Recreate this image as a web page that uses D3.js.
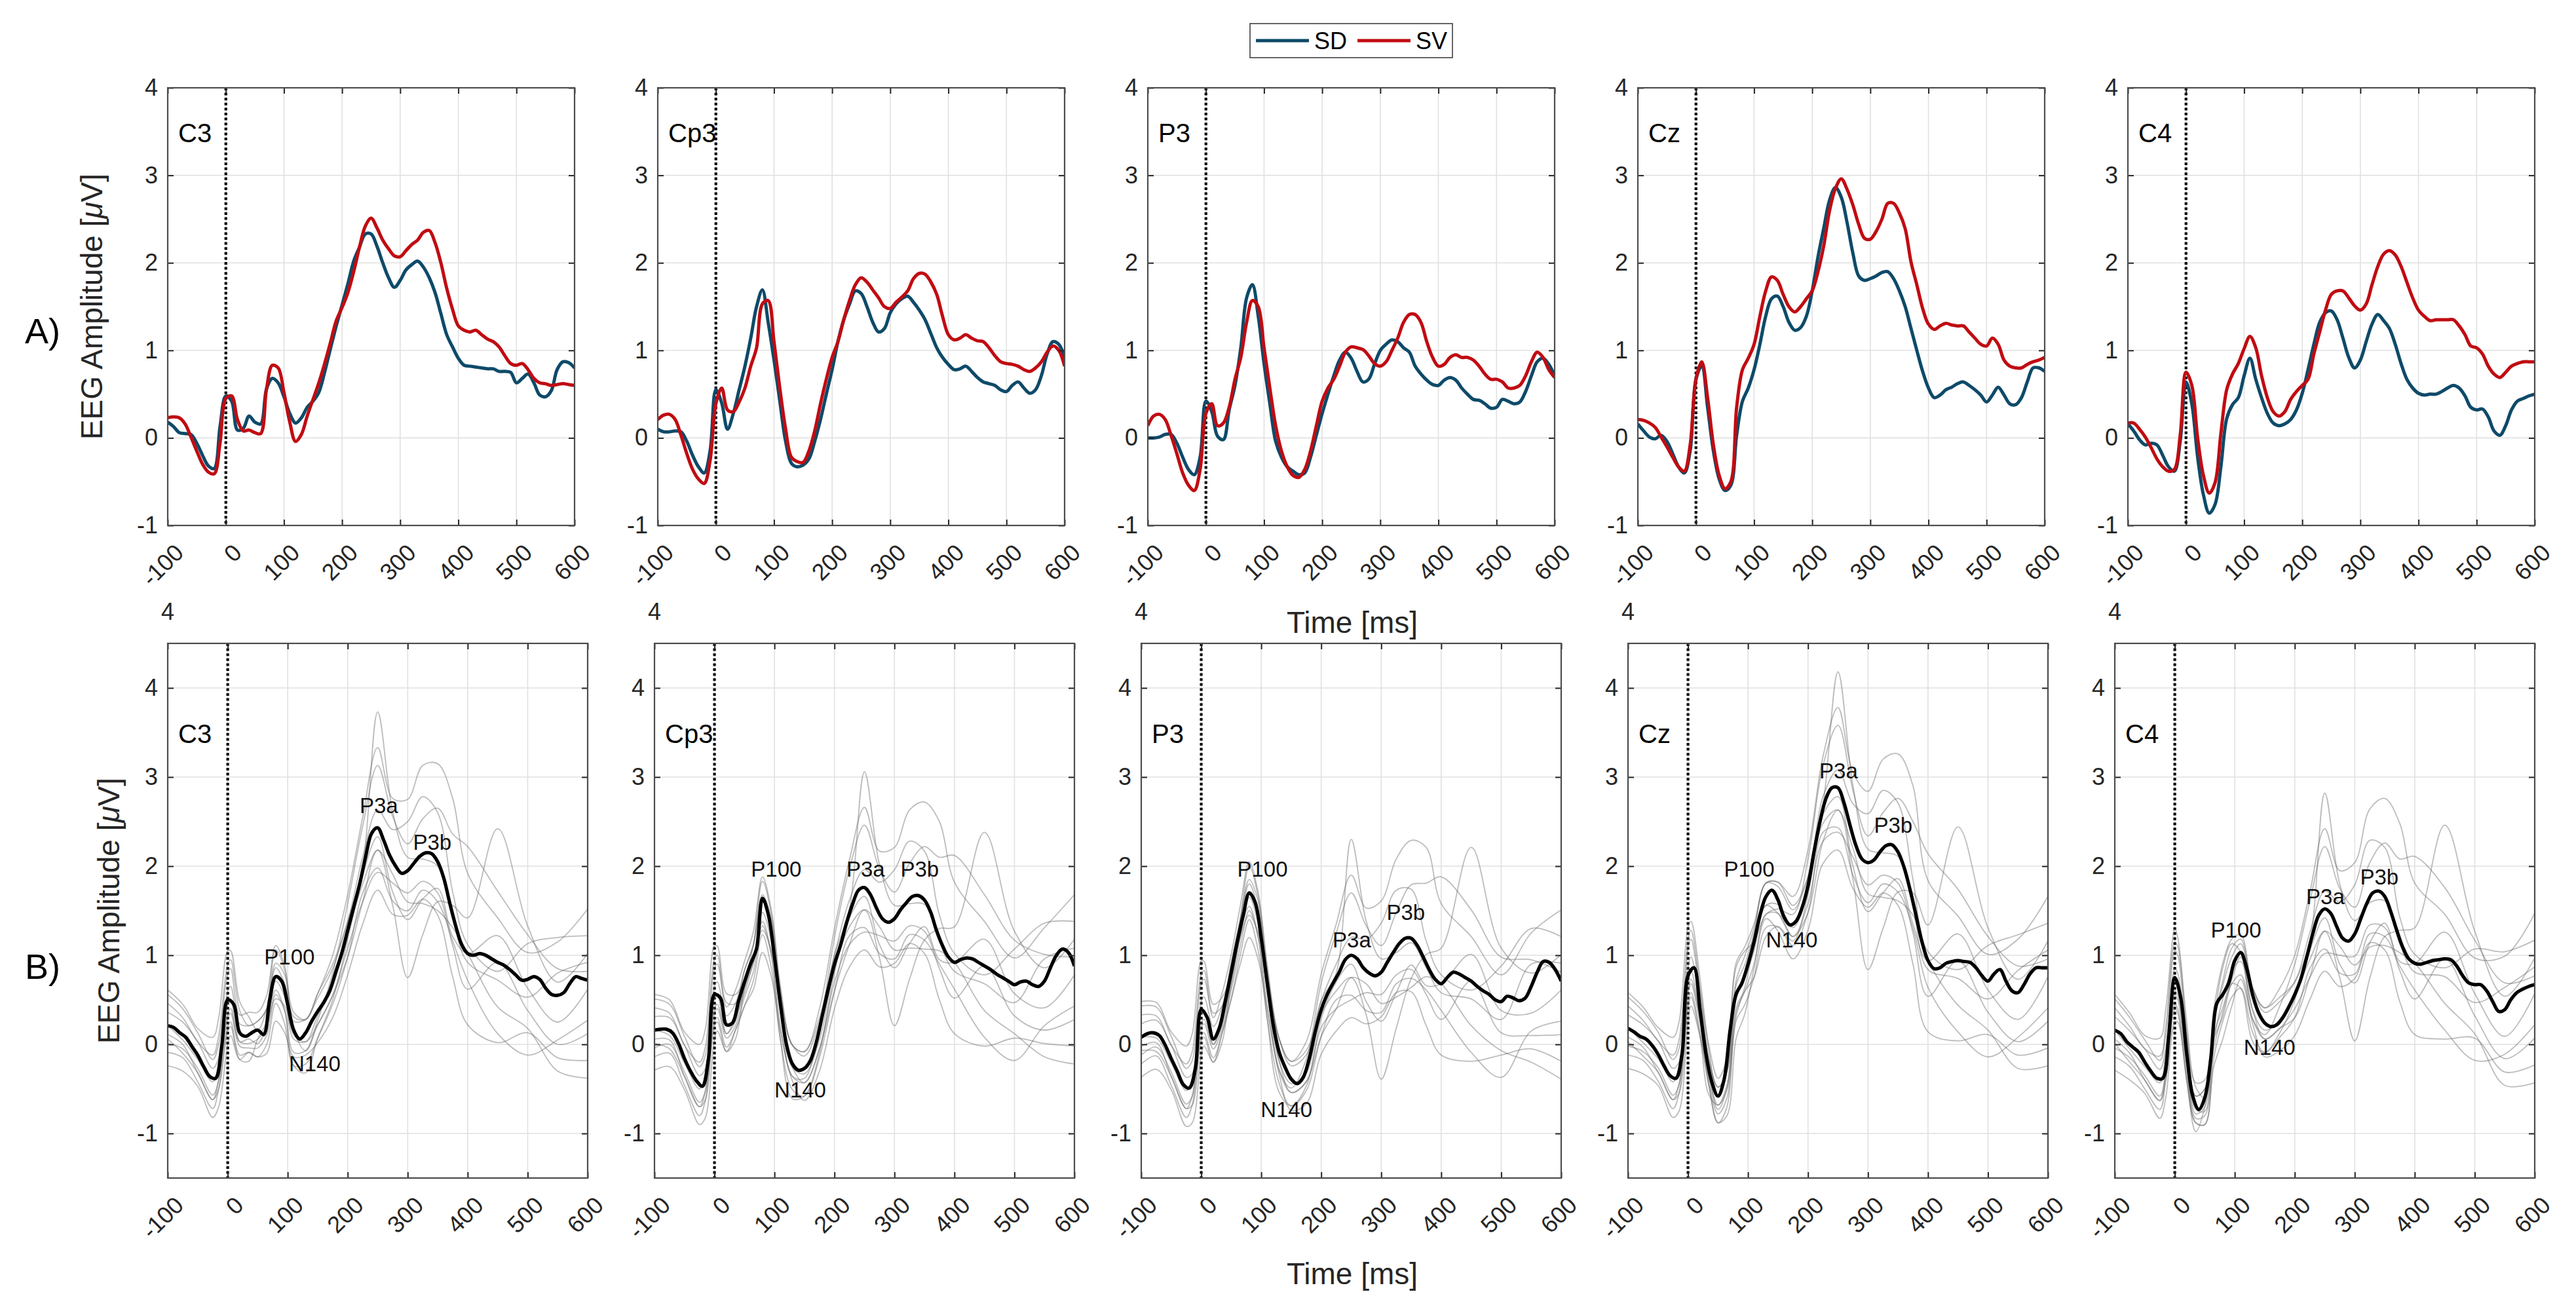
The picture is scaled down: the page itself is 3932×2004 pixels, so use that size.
<!DOCTYPE html>
<html><head><meta charset="utf-8">
<script src="https://cdn.jsdelivr.net/npm/d3@7"></script>
<style>body{margin:0;background:#fff}svg{display:block}</style>
</head><body><svg id="chart" width="3932" height="2004"></svg>
<script>
// ---------------- DATA ----------------
const timeMs = [-100,-90,-80,-70,-60,-50,-40,-30,-20,-10,0,10,20,30,40,50,60,70,80,90,100,110,120,130,140,150,160,170,180,190,200,210,220,230,240,250,260,270,280,290,300,310,320,330,340,350,360,370,380,390,400,410,420,430,440,450,460,470,480,490,500,510,520,530,540,550,560,570,580,590,600];
const channels = ["C3","Cp3","P3","Cz","C4"];
const seriesNames = ["SD","SV"];
const xTickVals = [-100,0,100,200,300,400,500,600];
const yTickVals = [-1,0,1,2,3,4];

const sdC3 = [0.18,0.13,0.06,0.05,0.04,-0.06,-0.20,-0.32,-0.35,0.13, 0.48,0.42,0.09,0.11,0.25,0.18,0.16,0.56,0.68,0.63, 0.47,0.28,0.17,0.23,0.35,0.42,0.52,0.75,1.02,1.28, 1.52,1.76,2.02,2.18,2.33,2.33,2.19,2.00,1.83,1.72, 1.80,1.92,1.98,2.02,1.95,1.83,1.66,1.42,1.18,1.04, 0.91,0.83,0.82,0.81,0.80,0.79,0.79,0.76,0.76,0.75, 0.63,0.68,0.73,0.63,0.49,0.47,0.54,0.78,0.87,0.86,0.80];
const svC3 = [0.23,0.24,0.23,0.16,0.01,-0.15,-0.30,-0.39,-0.41,-0.06, 0.45,0.48,0.21,0.08,0.09,0.06,0.05,0.56,0.83,0.80, 0.52,0.18,-0.04,0.04,0.25,0.44,0.63,0.85,1.09,1.34, 1.49,1.66,1.90,2.18,2.42,2.51,2.40,2.26,2.16,2.08, 2.07,2.14,2.21,2.26,2.35,2.37,2.23,2.00,1.71,1.47, 1.28,1.23,1.21,1.23,1.18,1.13,1.10,1.04,0.94,0.85, 0.83,0.85,0.78,0.68,0.63,0.62,0.60,0.61,0.62,0.61,0.60];
const sdCp3 = [0.10,0.07,0.07,0.08,0.07,-0.04,-0.20,-0.33,-0.40,-0.15, 0.55,0.40,0.10,0.28,0.55,0.82,1.14,1.50,1.69,1.32, 0.89,0.42,-0.04,-0.29,-0.33,-0.31,-0.24,-0.04,0.21,0.50, 0.78,1.10,1.35,1.53,1.68,1.65,1.50,1.32,1.21,1.25, 1.43,1.53,1.59,1.62,1.55,1.46,1.35,1.19,1.03,0.92, 0.84,0.78,0.79,0.82,0.76,0.69,0.64,0.62,0.60,0.55, 0.53,0.60,0.64,0.57,0.51,0.55,0.71,0.96,1.10,1.07,0.92];
const svCp3 = [0.21,0.26,0.27,0.21,0.03,-0.18,-0.36,-0.47,-0.52,-0.26, 0.39,0.57,0.32,0.30,0.41,0.57,0.82,1.03,1.53,1.57, 1.10,0.57,0.10,-0.22,-0.27,-0.28,-0.15,0.08,0.39,0.67, 0.92,1.10,1.35,1.57,1.75,1.83,1.78,1.69,1.60,1.50, 1.48,1.55,1.61,1.68,1.82,1.88,1.87,1.78,1.64,1.39, 1.18,1.12,1.14,1.18,1.14,1.11,1.10,1.03,0.94,0.87, 0.85,0.84,0.82,0.78,0.76,0.80,0.87,0.98,1.05,1.00,0.82];
const sdP3 = [0.00,0.00,0.01,0.04,0.04,-0.06,-0.22,-0.36,-0.42,-0.22, 0.42,0.30,0.02,-0.02,0.32,0.60,1.03,1.60,1.75,1.39, 0.85,0.39,-0.04,-0.22,-0.33,-0.38,-0.42,-0.40,-0.22,0.03, 0.28,0.50,0.71,0.89,0.98,0.91,0.76,0.64,0.67,0.84, 1.00,1.07,1.12,1.10,1.03,0.98,0.82,0.73,0.66,0.61, 0.60,0.66,0.69,0.66,0.57,0.50,0.44,0.43,0.39,0.34, 0.35,0.44,0.42,0.39,0.41,0.53,0.71,0.87,0.91,0.84,0.71];
const svP3 = [0.14,0.25,0.27,0.21,0.03,-0.18,-0.40,-0.54,-0.60,-0.36, 0.28,0.39,0.14,0.17,0.35,0.67,0.92,1.32,1.57,1.50, 1.03,0.57,0.14,-0.15,-0.33,-0.43,-0.45,-0.36,-0.15,0.14, 0.42,0.57,0.67,0.82,0.98,1.04,1.03,1.01,0.94,0.85, 0.82,0.87,1.00,1.14,1.32,1.41,1.41,1.32,1.10,0.92, 0.82,0.84,0.92,0.95,0.92,0.92,0.89,0.82,0.73,0.67, 0.67,0.64,0.57,0.57,0.60,0.71,0.87,0.98,0.92,0.78,0.69];
const sdCz = [0.16,0.08,0.01,-0.01,0.03,-0.04,-0.18,-0.33,-0.40,-0.15, 0.67,0.82,0.35,-0.15,-0.47,-0.60,-0.54,0.03,0.42,0.57, 0.78,1.07,1.39,1.59,1.62,1.50,1.32,1.23,1.26,1.39, 1.68,2.07,2.40,2.72,2.86,2.75,2.46,2.11,1.85,1.80, 1.82,1.85,1.89,1.90,1.82,1.68,1.50,1.25,1.00,0.76, 0.57,0.46,0.49,0.55,0.58,0.62,0.64,0.60,0.55,0.49, 0.41,0.49,0.58,0.49,0.39,0.38,0.46,0.64,0.80,0.80,0.76];
const svCz = [0.21,0.20,0.17,0.12,0.01,-0.10,-0.22,-0.33,-0.38,-0.08, 0.67,0.87,0.46,-0.08,-0.43,-0.58,-0.50,0.35,0.78,0.91, 1.07,1.39,1.68,1.84,1.80,1.64,1.50,1.44,1.50,1.59, 1.68,1.90,2.20,2.60,2.85,2.96,2.84,2.66,2.44,2.28, 2.27,2.36,2.50,2.68,2.68,2.57,2.39,2.01,1.75,1.48, 1.30,1.24,1.28,1.31,1.29,1.28,1.28,1.21,1.14,1.07, 1.05,1.14,1.07,0.89,0.82,0.80,0.80,0.84,0.87,0.89,0.92];
const sdC4 = [0.16,0.08,-0.02,-0.08,-0.06,-0.08,-0.20,-0.33,-0.38,-0.04, 0.64,0.39,-0.22,-0.65,-0.86,-0.76,-0.33,0.22,0.38,0.46, 0.71,0.91,0.67,0.46,0.28,0.17,0.14,0.16,0.21,0.32, 0.51,0.78,1.07,1.32,1.43,1.45,1.35,1.14,0.92,0.80, 0.89,1.10,1.30,1.41,1.34,1.25,1.07,0.85,0.67,0.57, 0.51,0.49,0.50,0.50,0.53,0.57,0.60,0.57,0.48,0.35, 0.32,0.33,0.24,0.08,0.03,0.14,0.32,0.42,0.45,0.48,0.50];
const svC4 = [0.17,0.17,0.10,0.01,-0.11,-0.24,-0.33,-0.38,-0.36,0.03, 0.75,0.60,0.00,-0.43,-0.63,-0.51,0.05,0.55,0.73,0.85, 1.02,1.16,1.03,0.71,0.46,0.30,0.25,0.30,0.44,0.53, 0.60,0.67,0.96,1.21,1.46,1.64,1.68,1.68,1.60,1.51, 1.46,1.53,1.75,1.96,2.10,2.14,2.09,1.96,1.78,1.60, 1.46,1.39,1.34,1.35,1.35,1.35,1.35,1.28,1.18,1.05, 1.03,0.96,0.82,0.73,0.69,0.75,0.82,0.85,0.87,0.87,0.87];

const meanC3 = [0.21,0.19,0.13,0.08,-0.02,-0.12,-0.25,-0.36,-0.38,-0.02, 0.50,0.45,0.13,0.09,0.13,0.16,0.11,0.50,0.76,0.71, 0.45,0.16,0.06,0.13,0.26,0.37,0.47,0.60,0.81,1.02, 1.28,1.54,1.80,2.11,2.37,2.43,2.29,2.12,2.00,1.92, 1.95,2.03,2.11,2.15,2.14,2.05,1.87,1.59,1.33,1.12, 1.02,1.00,1.02,1.00,0.96,0.92,0.89,0.84,0.78,0.72, 0.73,0.76,0.73,0.63,0.56,0.55,0.58,0.68,0.76,0.74,0.72];
const meanCp3 = [0.16,0.17,0.17,0.13,0.01,-0.16,-0.30,-0.41,-0.47,-0.16, 0.56,0.52,0.22,0.24,0.48,0.70,0.90,1.07,1.64,1.45, 0.98,0.45,0.00,-0.22,-0.29,-0.27,-0.18,0.03,0.33,0.63, 0.90,1.11,1.36,1.57,1.73,1.76,1.68,1.53,1.41,1.37, 1.41,1.51,1.59,1.66,1.67,1.62,1.49,1.28,1.11,0.98, 0.92,0.95,0.97,0.96,0.92,0.88,0.84,0.79,0.75,0.71, 0.67,0.70,0.71,0.67,0.65,0.71,0.86,1.00,1.07,1.03,0.88];
const meanP3 = [0.08,0.12,0.13,0.10,-0.01,-0.16,-0.30,-0.45,-0.49,-0.28, 0.39,0.30,0.06,0.18,0.48,0.81,1.15,1.45,1.70,1.59, 1.19,0.69,0.22,-0.09,-0.26,-0.39,-0.44,-0.37,-0.16,0.14, 0.39,0.56,0.69,0.81,0.95,1.00,0.96,0.86,0.80,0.77, 0.81,0.92,1.03,1.13,1.19,1.19,1.11,0.98,0.84,0.73, 0.68,0.75,0.81,0.79,0.75,0.71,0.65,0.60,0.56,0.50, 0.48,0.54,0.52,0.49,0.52,0.65,0.81,0.93,0.92,0.84,0.71];
const meanCz = [0.18,0.14,0.09,0.06,-0.01,-0.11,-0.24,-0.35,-0.38,-0.11, 0.77,0.86,0.39,-0.11,-0.43,-0.58,-0.40,0.15,0.56,0.69, 0.90,1.15,1.45,1.66,1.73,1.62,1.43,1.34,1.38,1.53, 1.78,2.16,2.50,2.76,2.88,2.88,2.71,2.46,2.23,2.08, 2.04,2.07,2.16,2.23,2.24,2.16,1.99,1.74,1.45,1.15, 0.94,0.85,0.86,0.91,0.93,0.94,0.93,0.92,0.86,0.77, 0.71,0.79,0.84,0.71,0.60,0.58,0.67,0.79,0.86,0.86,0.86];
const meanC4 = [0.16,0.12,0.03,-0.03,-0.09,-0.20,-0.30,-0.38,-0.38,0.10, 0.75,0.52,-0.11,-0.58,-0.73,-0.60,-0.16,0.46,0.56,0.69, 0.94,1.03,0.85,0.55,0.35,0.24,0.20,0.22,0.30,0.42, 0.56,0.73,0.98,1.24,1.45,1.52,1.47,1.32,1.19,1.16, 1.24,1.41,1.58,1.70,1.72,1.66,1.49,1.28,1.09,0.96, 0.91,0.90,0.92,0.94,0.95,0.96,0.95,0.88,0.77,0.69, 0.67,0.67,0.60,0.48,0.37,0.39,0.50,0.58,0.62,0.65,0.67];

// individual subject traces (sampled at subjectTimes)
const subjectTimes = [-100,-75,-50,-25,-15,0,5,20,35,50,65,80,95,110,130,150,175,200,225,250,275,300,325,350,375,400,450,500,550,600];
const subjectsC3 = [
[0.56,0.40,0.13,-0.17,0.00,0.80,0.85,0.33,0.36,0.36,0.55,1.11,0.88,0.36,0.28,0.57,1.00,1.68,2.55,3.33,2.76,2.75,3.13,3.15,2.76,1.92,1.42,1.03,1.15,1.52],
[-0.09,-0.15,-0.42,-0.72,-0.50,0.20,0.25,-0.12,-0.09,-0.14,0.00,0.46,0.23,-0.24,-0.22,0.07,0.45,0.98,1.70,1.98,1.61,1.50,1.73,1.60,1.16,0.72,0.12,-0.12,0.05,0.27],
[0.01,-0.05,-0.27,-0.57,-0.40,0.30,0.35,-0.02,-0.04,-0.04,0.10,0.56,0.38,-0.09,-0.07,0.22,0.55,1.08,1.60,1.93,1.81,1.70,1.83,1.70,1.11,0.62,0.92,0.38,0.00,0.12],
[0.46,0.30,0.03,-0.12,0.10,0.90,0.95,0.38,0.21,0.26,0.40,0.91,0.78,0.31,0.28,0.57,0.90,1.38,2.10,2.63,2.41,2.50,2.78,2.60,1.71,1.12,0.82,1.13,1.20,1.22],
[0.11,0.00,-0.32,-0.62,-0.50,0.15,0.20,-0.17,-0.19,0.06,0.25,0.61,0.38,-0.24,-0.32,0.07,0.50,1.18,1.90,2.33,1.71,1.40,1.63,1.75,1.21,1.02,1.22,0.63,0.25,0.62],
[0.36,0.25,0.03,-0.27,-0.15,0.60,0.65,0.23,0.21,0.26,0.40,0.86,0.68,0.26,0.28,0.52,0.85,1.38,2.00,3.73,2.61,2.10,2.08,2.00,1.41,0.92,0.72,0.53,0.80,0.92],
[0.06,-0.10,-0.32,-0.62,-0.40,0.35,0.40,0.03,0.06,0.01,0.20,0.51,0.43,0.11,0.03,0.22,0.55,0.98,1.60,2.18,1.91,1.60,1.58,1.50,1.31,1.02,0.42,0.18,-0.30,-0.38],
[0.21,0.05,-0.17,-0.42,-0.20,0.45,0.50,0.03,0.01,0.06,0.20,0.71,0.53,0.06,0.03,0.32,0.65,1.23,1.80,2.18,1.56,0.75,1.23,1.60,1.56,1.42,2.42,1.33,0.70,1.02],
[0.61,0.45,0.18,0.08,0.30,1.05,1.05,0.48,0.31,0.16,0.40,1.06,0.83,0.16,-0.07,0.27,0.80,1.58,2.45,3.13,2.56,2.25,2.53,2.65,2.36,2.22,1.72,1.23,0.85,0.82],
[-0.24,-0.30,-0.47,-0.82,-0.70,0.00,0.10,-0.17,-0.09,-0.14,-0.10,0.26,0.13,-0.14,-0.12,0.02,0.30,0.78,1.35,1.73,1.46,1.45,1.63,1.45,0.76,0.22,0.02,0.13,-0.15,-0.18]];
const subjectsCp3 = [
[0.51,0.45,0.09,-0.25,-0.12,0.86,0.90,0.42,0.61,0.93,1.27,1.88,1.50,0.65,-0.01,-0.08,0.40,1.30,2.07,2.66,2.17,2.21,2.63,2.72,2.50,1.82,1.38,0.97,1.31,1.68],
[-0.14,-0.10,-0.46,-0.80,-0.62,0.26,0.30,-0.03,0.16,0.43,0.72,1.23,0.85,0.05,-0.51,-0.58,-0.15,0.60,1.22,1.31,1.02,0.96,1.23,1.17,0.90,0.62,0.08,-0.18,0.21,0.43],
[-0.04,0.00,-0.31,-0.65,-0.52,0.36,0.40,0.07,0.21,0.53,0.82,1.33,1.00,0.20,-0.36,-0.43,-0.05,0.70,1.12,1.26,1.22,1.16,1.33,1.27,0.85,0.52,0.88,0.32,0.16,0.28],
[0.41,0.35,-0.01,-0.20,-0.02,0.96,1.00,0.47,0.46,0.83,1.12,1.68,1.40,0.60,-0.01,-0.08,0.30,1.00,1.62,1.96,1.82,1.96,2.28,2.17,1.45,1.02,0.78,1.07,1.36,1.38],
[0.06,0.05,-0.36,-0.70,-0.62,0.21,0.25,-0.08,0.06,0.63,0.97,1.38,1.00,0.05,-0.61,-0.58,-0.10,0.80,1.42,1.66,1.12,0.86,1.13,1.32,0.95,0.92,1.18,0.57,0.41,0.78],
[0.31,0.30,-0.01,-0.35,-0.27,0.66,0.70,0.32,0.46,0.83,1.12,1.63,1.30,0.55,-0.01,-0.13,0.25,1.00,1.52,3.06,2.02,1.56,1.58,1.57,1.15,0.82,0.68,0.47,0.96,1.08],
[0.01,-0.05,-0.36,-0.70,-0.52,0.41,0.45,0.12,0.31,0.58,0.92,1.28,1.05,0.40,-0.26,-0.43,-0.05,0.60,1.12,1.51,1.32,1.06,1.08,1.07,1.05,0.92,0.38,0.12,-0.14,-0.22],
[0.16,0.10,-0.21,-0.50,-0.32,0.51,0.55,0.12,0.26,0.63,0.92,1.48,1.15,0.35,-0.26,-0.33,0.05,0.85,1.32,1.51,0.97,0.21,0.73,1.17,1.30,1.32,2.38,1.27,0.86,1.18],
[0.56,0.50,0.14,0.00,0.18,1.11,1.10,0.57,0.56,0.73,1.12,1.83,1.45,0.45,-0.36,-0.38,0.20,1.20,1.97,2.46,1.97,1.71,2.03,2.22,2.10,2.12,1.68,1.17,1.01,0.98],
[-0.29,-0.25,-0.51,-0.90,-0.82,0.06,0.15,-0.08,0.16,0.43,0.62,1.03,0.75,0.15,-0.41,-0.63,-0.30,0.40,0.87,1.06,0.87,0.91,1.13,1.02,0.50,0.12,-0.02,0.07,0.01,-0.02]];
const subjectsP3 = [
[0.43,0.42,0.09,-0.27,-0.18,0.69,0.73,0.30,0.58,1.01,1.55,2.05,1.70,0.89,0.06,-0.19,0.03,0.79,1.35,1.90,1.53,1.61,2.08,2.29,2.21,1.58,1.21,0.78,1.25,1.51],
[-0.22,-0.13,-0.46,-0.82,-0.68,0.09,0.13,-0.15,0.13,0.51,1.00,1.40,1.05,0.29,-0.44,-0.69,-0.52,0.09,0.50,0.55,0.38,0.36,0.68,0.74,0.61,0.38,-0.09,-0.37,0.15,0.26],
[-0.12,-0.03,-0.31,-0.67,-0.58,0.19,0.23,-0.05,0.18,0.61,1.10,1.50,1.20,0.44,-0.29,-0.54,-0.42,0.19,0.40,0.50,0.58,0.56,0.78,0.84,0.56,0.28,0.71,0.13,0.10,0.11],
[0.33,0.32,-0.01,-0.22,-0.08,0.79,0.83,0.35,0.43,0.91,1.40,1.85,1.60,0.84,0.06,-0.19,-0.07,0.49,0.90,1.20,1.18,1.36,1.73,1.74,1.16,0.78,0.61,0.88,1.30,1.21],
[-0.02,0.02,-0.36,-0.72,-0.68,0.04,0.08,-0.20,0.03,0.71,1.25,1.55,1.20,0.29,-0.54,-0.69,-0.47,0.29,0.70,0.90,0.48,0.26,0.58,0.89,0.66,0.68,1.01,0.38,0.35,0.61],
[0.23,0.27,-0.01,-0.37,-0.33,0.49,0.53,0.20,0.43,0.91,1.40,1.80,1.50,0.79,0.06,-0.24,-0.12,0.49,0.80,2.30,1.38,0.96,1.03,1.14,0.86,0.58,0.51,0.28,0.90,0.91],
[-0.07,-0.08,-0.36,-0.72,-0.58,0.24,0.28,0.00,0.28,0.66,1.20,1.45,1.25,0.64,-0.19,-0.54,-0.42,0.09,0.40,0.75,0.68,0.46,0.53,0.64,0.76,0.68,0.21,-0.07,-0.20,-0.39],
[0.08,0.07,-0.21,-0.52,-0.38,0.34,0.38,0.00,0.23,0.71,1.20,1.65,1.35,0.59,-0.19,-0.44,-0.32,0.34,0.60,0.75,0.33,-0.39,0.18,0.74,1.01,1.08,2.21,1.08,0.80,1.01],
[0.48,0.47,0.14,-0.02,0.12,0.94,0.93,0.45,0.53,0.81,1.40,2.00,1.65,0.69,-0.29,-0.49,-0.17,0.69,1.25,1.70,1.33,1.11,1.48,1.79,1.81,1.88,1.51,0.98,0.95,0.81],
[-0.37,-0.28,-0.51,-0.92,-0.88,-0.11,-0.02,-0.20,0.13,0.51,0.90,1.20,0.95,0.39,-0.34,-0.74,-0.67,-0.11,0.15,0.30,0.23,0.31,0.58,0.59,0.21,-0.12,-0.19,-0.12,-0.05,-0.19]];
const subjectsCz = [
[0.53,0.37,0.14,-0.17,-0.05,1.07,1.18,0.59,-0.02,-0.38,-0.15,0.91,1.10,1.35,1.81,1.82,1.66,2.18,3.23,3.78,3.05,2.84,3.20,3.26,2.90,1.84,1.44,1.01,1.18,1.66],
[-0.12,-0.18,-0.41,-0.72,-0.55,0.47,0.58,0.14,-0.47,-0.88,-0.70,0.26,0.45,0.75,1.31,1.32,1.11,1.48,2.38,2.43,1.90,1.59,1.80,1.71,1.30,0.64,0.14,-0.14,0.08,0.41],
[-0.02,-0.08,-0.26,-0.57,-0.45,0.57,0.68,0.24,-0.42,-0.78,-0.60,0.36,0.60,0.90,1.46,1.47,1.21,1.58,2.28,2.38,2.10,1.79,1.90,1.81,1.25,0.54,0.94,0.36,0.03,0.26],
[0.43,0.27,0.04,-0.12,0.05,1.17,1.28,0.64,-0.17,-0.48,-0.30,0.71,1.00,1.30,1.81,1.82,1.56,1.88,2.78,3.08,2.70,2.59,2.85,2.71,1.85,1.04,0.84,1.11,1.23,1.36],
[0.08,-0.03,-0.31,-0.62,-0.55,0.42,0.53,0.09,-0.57,-0.68,-0.45,0.41,0.60,0.75,1.21,1.32,1.16,1.68,2.58,2.78,2.00,1.49,1.70,1.86,1.35,0.94,1.24,0.61,0.28,0.76],
[0.33,0.22,0.04,-0.27,-0.20,0.87,0.98,0.49,-0.17,-0.48,-0.30,0.66,0.90,1.25,1.81,1.77,1.51,1.88,2.68,4.18,2.90,2.19,2.15,2.11,1.55,0.84,0.74,0.51,0.83,1.06],
[0.03,-0.13,-0.31,-0.62,-0.45,0.62,0.73,0.29,-0.32,-0.73,-0.50,0.31,0.65,1.10,1.56,1.47,1.21,1.48,2.28,2.63,2.20,1.69,1.65,1.61,1.45,0.94,0.44,0.16,-0.27,-0.24],
[0.18,0.02,-0.16,-0.42,-0.25,0.72,0.83,0.29,-0.37,-0.68,-0.50,0.51,0.75,1.05,1.56,1.57,1.31,1.73,2.48,2.63,1.85,0.84,1.30,1.71,1.70,1.34,2.44,1.31,0.73,1.16],
[0.58,0.42,0.19,0.08,0.25,1.32,1.38,0.74,-0.07,-0.58,-0.30,0.86,1.05,1.15,1.46,1.52,1.46,2.08,3.13,3.58,2.85,2.34,2.60,2.76,2.50,2.14,1.74,1.21,0.88,0.96],
[-0.27,-0.33,-0.46,-0.82,-0.75,0.27,0.43,0.09,-0.47,-0.88,-0.80,0.06,0.35,0.85,1.41,1.27,0.96,1.28,2.03,2.18,1.75,1.54,1.70,1.56,0.90,0.14,0.04,0.11,-0.12,-0.04]];
const subjectsC4 = [
[0.51,0.30,0.05,-0.18,0.10,1.05,1.00,0.09,-0.43,-0.40,0.40,0.91,1.18,1.23,0.63,0.41,0.63,1.00,1.70,2.42,1.95,2.04,2.64,2.76,2.48,1.81,1.46,0.97,0.99,1.47],
[-0.14,-0.25,-0.50,-0.73,-0.40,0.45,0.40,-0.36,-0.88,-0.90,-0.15,0.26,0.53,0.63,0.13,-0.09,0.08,0.30,0.85,1.07,0.80,0.79,1.24,1.21,0.88,0.61,0.16,-0.18,-0.11,0.22],
[-0.04,-0.15,-0.35,-0.58,-0.30,0.55,0.50,-0.26,-0.83,-0.80,-0.05,0.36,0.68,0.78,0.28,0.06,0.18,0.40,0.75,1.02,1.00,0.99,1.34,1.31,0.83,0.51,0.96,0.32,-0.16,0.07],
[0.41,0.20,-0.05,-0.13,0.20,1.15,1.10,0.14,-0.58,-0.50,0.25,0.71,1.08,1.18,0.63,0.41,0.53,0.70,1.25,1.72,1.60,1.79,2.29,2.21,1.43,1.01,0.86,1.07,1.04,1.17],
[0.06,-0.10,-0.40,-0.63,-0.40,0.40,0.35,-0.41,-0.98,-0.70,0.10,0.41,0.68,0.63,0.03,-0.09,0.13,0.50,1.05,1.42,0.90,0.69,1.14,1.36,0.93,0.91,1.26,0.57,0.09,0.57],
[0.31,0.15,-0.05,-0.28,-0.05,0.85,0.80,-0.01,-0.58,-0.50,0.25,0.66,0.98,1.13,0.63,0.36,0.48,0.70,1.15,2.82,1.80,1.39,1.59,1.61,1.13,0.81,0.76,0.47,0.64,0.87],
[0.01,-0.20,-0.40,-0.63,-0.30,0.60,0.55,-0.21,-0.73,-0.75,0.05,0.31,0.73,0.98,0.38,0.06,0.18,0.30,0.75,1.27,1.10,0.89,1.09,1.11,1.03,0.91,0.46,0.12,-0.46,-0.43],
[0.16,-0.05,-0.25,-0.43,-0.10,0.70,0.65,-0.21,-0.78,-0.70,0.05,0.51,0.83,0.93,0.38,0.16,0.28,0.55,0.95,1.27,0.75,0.04,0.74,1.21,1.28,1.31,2.46,1.27,0.54,0.97],
[0.56,0.35,0.10,0.07,0.40,1.30,1.20,0.24,-0.48,-0.60,0.25,0.86,1.13,1.03,0.28,0.11,0.43,0.90,1.60,2.22,1.75,1.54,2.04,2.26,2.08,2.11,1.76,1.17,0.69,0.77],
[-0.29,-0.40,-0.55,-0.83,-0.60,0.25,0.25,-0.41,-0.88,-0.90,-0.25,0.06,0.43,0.73,0.23,-0.14,-0.07,0.10,0.50,0.82,0.65,0.74,1.14,1.06,0.48,0.11,0.06,0.07,-0.31,-0.23]];

// component annotations: [label, time (ms), amplitude]
const peaksC3  = [["P100",103,0.98],["N140",145,-0.22],["P3a",252,2.68],["P3b",341,2.27]];
const peaksCp3 = [["P100",103,1.97],["N140",143,-0.51],["P3a",252,1.97],["P3b",342,1.97]];
const peaksP3  = [["P100",102,1.97],["N140",142,-0.73],["P3a",251,1.17],["P3b",341,1.48]];
const peaksCz  = [["P100",102,1.97],["N140",173,1.17],["P3a",251,3.07],["P3b",342,2.46]];
const peaksC4  = [["P100",102,1.28],["N140",158,-0.03],["P3a",251,1.66],["P3b",341,1.88]];

// ---------------- LAYOUT / STYLE ----------------
const FONT = '"Liberation Sans", Arial, Helvetica, sans-serif';
const AX = "#262626";
const COL_SD = "#0e4a69", COL_SV = "#c00c12";
const topRow = {lefts:[256,1004,1752,2500,3248], width:621, top:134, bottom:802, yDomain:[-1,4]};
const botRow = {lefts:[256,999,1742,2485,3228], width:641, top:982, bottom:1798, yDomain:[-1.5,4.5]};

const panels = [
  {sd:sdC3, sv:svC3, mean:meanC3, subj:subjectsC3, peaks:peaksC3},
  {sd:sdCp3, sv:svCp3, mean:meanCp3, subj:subjectsCp3, peaks:peaksCp3},
  {sd:sdP3, sv:svP3, mean:meanP3, subj:subjectsP3, peaks:peaksP3},
  {sd:sdCz, sv:svCz, mean:meanCz, subj:subjectsCz, peaks:peaksCz},
  {sd:sdC4, sv:svC4, mean:meanC4, subj:subjectsC4, peaks:peaksC4}
];

const svg = d3.select("#chart");
svg.append("rect").attr("width",3932).attr("height",2004).attr("fill","#fff");
const defs = svg.append("defs");

function drawPanel(row, i, isTop) {
  const p = panels[i];
  const left = row.lefts[i], right = left + row.width;
  const x = d3.scaleLinear().domain([-100, 600]).range([left, right]);
  const y = d3.scaleLinear().domain(row.yDomain).range([row.bottom, row.top]);
  const g = svg.append("g");
  const cid = "clip" + (isTop ? "T" : "B") + i;
  defs.append("clipPath").attr("id", cid).append("rect")
    .attr("x", left).attr("y", row.top).attr("width", row.width).attr("height", row.bottom - row.top);

  // grid
  g.append("g").selectAll("line").data(xTickVals).join("line")
    .attr("x1", d => x(d)).attr("x2", d => x(d)).attr("y1", row.top).attr("y2", row.bottom)
    .attr("stroke", "#e1e1e1").attr("stroke-width", 1.6);
  g.append("g").selectAll("line").data(yTickVals).join("line")
    .attr("x1", left).attr("x2", right).attr("y1", d => y(d)).attr("y2", d => y(d))
    .attr("stroke", "#e1e1e1").attr("stroke-width", 1.6);

  const plot = g.append("g").attr("clip-path", `url(#${cid})`);
  // stimulus onset
  plot.append("line").attr("x1", x(0)).attr("x2", x(0)).attr("y1", row.top).attr("y2", row.bottom)
    .attr("stroke", "#000").attr("stroke-width", 4.2).attr("stroke-dasharray", "4 3.6");

  const lineMain = d3.line().x((d, j) => x(timeMs[j])).y(d => y(d)).curve(d3.curveCatmullRom.alpha(0.5));
  if (isTop) {
    plot.append("path").attr("d", lineMain(p.sd)).attr("fill", "none").attr("stroke", COL_SD).attr("stroke-width", 5);
    plot.append("path").attr("d", lineMain(p.sv)).attr("fill", "none").attr("stroke", COL_SV).attr("stroke-width", 5);
  } else {
    const lineSub = d3.line().x((d, j) => x(subjectTimes[j])).y(d => y(d)).curve(d3.curveCatmullRom.alpha(0.5));
    plot.append("g").selectAll("path").data(p.subj).join("path")
      .attr("d", d => lineSub(d)).attr("fill", "none").attr("stroke", "#6a6a6a")
      .attr("stroke-opacity", 0.45).attr("stroke-width", 1.8);
    plot.append("path").attr("d", lineMain(p.mean)).attr("fill", "none").attr("stroke", "#000").attr("stroke-width", 5.2);
  }

  // axes (ticks inward, box)
  const styleTicks = sel => { sel.select(".domain").remove(); sel.selectAll("line").attr("stroke", AX).attr("stroke-width", 2); };
  const xb = g.append("g").attr("transform", `translate(0,${row.bottom})`)
    .call(d3.axisBottom(x).tickValues(xTickVals).tickSize(-9).tickFormat(d => String(d)));
  styleTicks(xb);
  xb.selectAll("text").attr("x", 0).attr("y", 0).attr("dy", null)
    .attr("text-anchor", "end").attr("dominant-baseline", "central")
    .attr("transform", "translate(17,35) rotate(-45)")
    .attr("font-size", 36).attr("font-family", FONT).attr("fill", AX);
  const xt = g.append("g").attr("transform", `translate(0,${row.top})`)
    .call(d3.axisTop(x).tickValues(xTickVals).tickSize(-9).tickFormat(""));
  styleTicks(xt);
  const yl = g.append("g").attr("transform", `translate(${left},0)`)
    .call(d3.axisLeft(y).tickValues(yTickVals).tickSize(-9).tickPadding(15).tickFormat(d => String(d)));
  styleTicks(yl);
  yl.selectAll("text").attr("font-size", 36).attr("font-family", FONT).attr("fill", AX);
  const yr = g.append("g").attr("transform", `translate(${right},0)`)
    .call(d3.axisRight(y).tickValues(yTickVals).tickSize(-9).tickFormat(""));
  styleTicks(yr);
  g.append("rect").attr("x", left).attr("y", row.top).attr("width", row.width).attr("height", row.bottom - row.top)
    .attr("fill", "none").attr("stroke", "#4d4d4d").attr("stroke-width", 2.2);

  // channel name
  g.append("text").attr("x", left + 16).attr("y", y(3.38)).text(channels[i])
    .attr("font-size", 40).attr("font-family", FONT).attr("fill", "#000");

  if (!isTop) {
    g.append("g").selectAll("text").data(p.peaks).join("text")
      .attr("x", d => x(d[1])).attr("y", d => y(d[2])).text(d => d[0])
      .attr("text-anchor", "middle").attr("dominant-baseline", "central")
      .attr("font-size", 33).attr("font-family", FONT).attr("fill", "#111");
    g.append("text").attr("x", left).attr("y", 933).text("4")
      .attr("text-anchor", "middle").attr("dominant-baseline", "central")
      .attr("font-size", 36).attr("font-family", FONT).attr("fill", AX);
  }
}

for (let i = 0; i < 5; i++) { drawPanel(topRow, i, true); drawPanel(botRow, i, false); }

// axis titles
function yLabel(cx, cy) {
  const t = svg.append("text").attr("transform", `translate(${cx},${cy}) rotate(-90)`)
    .attr("text-anchor", "middle").attr("dominant-baseline", "central")
    .attr("font-size", 46).attr("font-family", FONT).attr("fill", AX);
  t.append("tspan").text("EEG Amplitude [");
  t.append("tspan").attr("font-style", "italic").text("\u03BC");
  t.append("tspan").text("V]");
}
yLabel(140, 468);
yLabel(166, 1390);
[[950],[1944]].forEach(([cy]) => {
  svg.append("text").attr("x", 2064).attr("y", cy).text("Time [ms]")
    .attr("text-anchor", "middle").attr("dominant-baseline", "central")
    .attr("font-size", 46).attr("font-family", FONT).attr("fill", AX);
});
svg.append("text").attr("x", 65).attr("y", 505).text("A)").attr("text-anchor", "middle")
  .attr("dominant-baseline", "central").attr("font-size", 54).attr("font-family", FONT).attr("fill", "#000");
svg.append("text").attr("x", 65).attr("y", 1475).text("B)").attr("text-anchor", "middle")
  .attr("dominant-baseline", "central").attr("font-size", 54).attr("font-family", FONT).attr("fill", "#000");

// legend
const lg = svg.append("g");
lg.append("rect").attr("x", 1908).attr("y", 36).attr("width", 309).attr("height", 52)
  .attr("fill", "#fff").attr("stroke", "#555").attr("stroke-width", 1.8);
[[seriesNames[0], COL_SD, 1917], [seriesNames[1], COL_SV, 2072]].forEach(([nm, c, x0]) => {
  lg.append("line").attr("x1", x0).attr("x2", x0 + 81).attr("y1", 62).attr("y2", 62)
    .attr("stroke", c).attr("stroke-width", 4.8);
  lg.append("text").attr("x", x0 + 89).attr("y", 62).text(nm).attr("dominant-baseline", "central")
    .attr("font-size", 36).attr("font-family", FONT).attr("fill", "#000");
});
</script></body></html>
